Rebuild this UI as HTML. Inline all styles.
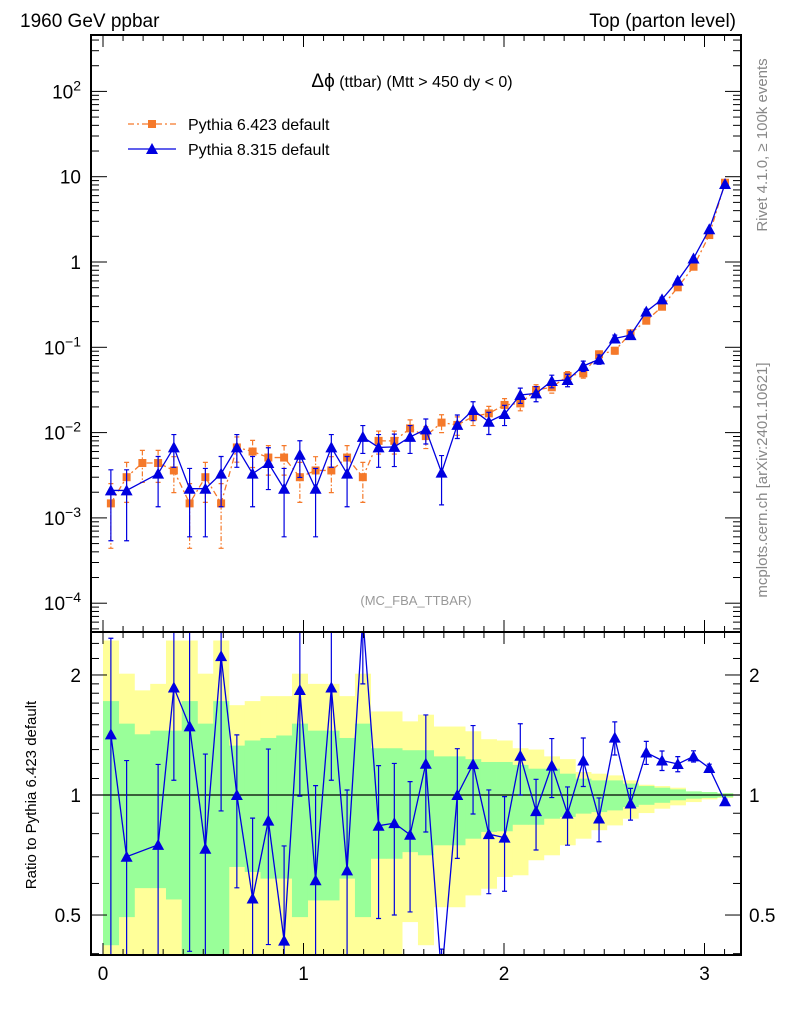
<!DOCTYPE html>
<html><head><meta charset="utf-8"><style>
html,body{margin:0;padding:0;background:#fff;width:786px;height:1024px;overflow:hidden;}
svg{display:block;font-family:"Liberation Sans",sans-serif;}
</style></head><body>
<svg id="c" width="786" height="1024" viewBox="0 0 786 1024" xmlns="http://www.w3.org/2000/svg">
<defs>
<clipPath id="cpTop"><rect x="91" y="35" width="650" height="597"/></clipPath>
<clipPath id="cpRat"><rect x="91" y="632" width="650" height="323"/></clipPath>
</defs>
<text x="20" y="27" font-size="19">1960 GeV ppbar</text>
<text x="736" y="27" font-size="19" text-anchor="end">Top (parton level)</text>
<text x="412" y="87" font-size="16" text-anchor="middle"><tspan font-size="19">Δϕ</tspan> (ttbar) (Mtt &gt; 450 dy &lt; 0)</text>
<text x="416" y="605" font-size="13" fill="#999" text-anchor="middle">(MC_FBA_TTBAR)</text>
<text transform="translate(767,145) rotate(-90)" font-size="15" fill="#888" text-anchor="middle">Rivet 4.1.0, ≥ 100k events</text>
<text transform="translate(767,480) rotate(-90)" font-size="15" fill="#888" text-anchor="middle">mcplots.cern.ch [arXiv:2401.10621]</text>
<text transform="translate(36,795) rotate(-90)" font-size="15" text-anchor="middle">Ratio to Pythia 6.423 default</text>
<g id="legend">
<g>
<line x1="128" y1="124" x2="176" y2="124" stroke="#f5792a" stroke-width="1.3" stroke-dasharray="6,3,2,3"/>
<rect x="148" y="120" width="8" height="8" fill="#f5792a"/>
<text x="188" y="130" font-size="16">Pythia 6.423 default</text></g>
<g>
<line x1="128" y1="149" x2="176" y2="149" stroke="#0000e0" stroke-width="1.3"/>
<polygon points="152,143 158,154 146,154" fill="#0000e0"/>
<text x="188" y="155" font-size="16">Pythia 8.315 default</text></g>
</g>
<g id="bands" clip-path="url(#cpRat)"></g>
<g id="topMarks" clip-path="url(#cpTop)"></g>
<g id="ratMarks" clip-path="url(#cpRat)"></g>
<g id="axes"></g>
</svg>
<script>
const nBins = 40;
const xMax = Math.PI;
const p6Vals = [1.48e-3,3.0e-3,4.4e-3,4.4e-3,3.6e-3,1.48e-3,3.0e-3,1.48e-3,6.7e-3,6.0e-3,5.1e-3,5.1e-3,3.0e-3,3.6e-3,3.6e-3,5.1e-3,3.0e-3,8.0e-3,8.0e-3,0.0112,0.0091,0.0131,0.0123,0.0154,0.0168,0.0211,0.022,0.0316,0.034,0.0461,0.0495,0.0828,0.0912,0.146,0.205,0.299,0.505,0.88,2.07,8.5];
const p6Errs = [1.04e-3,1.48e-3,1.79e-3,1.79e-3,1.62e-3,1.04e-3,1.48e-3,1.04e-3,2.2e-3,2.1e-3,1.93e-3,1.93e-3,1.48e-3,1.62e-3,1.62e-3,1.93e-3,1.48e-3,2.4e-3,2.4e-3,2.9e-3,2.6e-3,3.1e-3,3.0e-3,3.3e-3,3.5e-3,3.9e-3,4.0e-3,4.8e-3,5.0e-3,5.8e-3,6.0e-3,7.8e-3,8.2e-3,0.0103,0.0122,0.0148,0.0192,0.0253,0.039,0.079];
const p8Vals = [2.1e-3,2.1e-3,null,3.3e-3,6.7e-3,2.2e-3,2.2e-3,3.3e-3,6.7e-3,3.3e-3,4.4e-3,2.2e-3,5.5e-3,2.2e-3,6.7e-3,3.3e-3,8.9e-3,6.7e-3,6.8e-3,8.9e-3,0.0109,3.4e-3,0.0123,0.0184,0.0134,0.0165,0.0276,0.0288,0.0403,0.0414,0.0604,0.0723,0.127,0.139,0.262,0.365,0.604,1.10,2.42,8.2];
const p8Errs = [1.56e-3,1.56e-3,null,1.95e-3,2.78e-3,1.6e-3,1.6e-3,1.95e-3,2.78e-3,1.95e-3,2.25e-3,1.6e-3,2.52e-3,1.6e-3,2.78e-3,1.95e-3,3.2e-3,2.78e-3,2.8e-3,3.2e-3,3.55e-3,1.98e-3,3.77e-3,4.6e-3,3.9e-3,4.4e-3,5.6e-3,5.8e-3,6.8e-3,6.9e-3,8.4e-3,9.1e-3,0.0121,0.0127,0.0174,0.0205,0.0264,0.0357,0.053,0.097];
const greenHi = [1.72,1.51,1.42,1.45,1.45,1.72,1.51,1.72,1.33,1.37,1.39,1.41,1.51,1.45,1.45,1.39,1.51,1.31,1.31,1.295,1.295,1.25,1.25,1.23,1.21,1.21,1.19,1.164,1.164,1.131,1.099,1.088,1.088,1.068,1.053,1.043,1.033,1.021,1.017,1.01];
const greenLo = [0.42,0.494,0.584,0.584,0.547,0.39,0.39,0.39,0.66,0.641,0.617,0.617,0.494,0.544,0.544,0.617,0.494,0.692,0.692,0.719,0.706,0.748,0.748,0.777,0.808,0.811,0.842,0.842,0.872,0.881,0.898,0.906,0.915,0.933,0.945,0.956,0.97,0.979,0.983,0.987];
const yellowHi = [2.44,2.015,1.83,1.90,2.44,2.44,2.015,2.44,1.68,1.72,1.77,1.77,2.015,1.90,1.90,1.77,2.015,1.62,1.62,1.53,1.59,1.485,1.485,1.445,1.38,1.37,1.31,1.30,1.25,1.23,1.142,1.131,1.12,1.088,1.061,1.053,1.043,1.021,1.017,1.01];
const yellowLo = [0.39,0.39,0.39,0.39,0.39,0.39,0.39,0.39,0.39,0.39,0.39,0.39,0.39,0.39,0.39,0.39,0.39,0.39,0.39,0.48,0.42,0.523,0.523,0.56,0.582,0.623,0.629,0.686,0.706,0.748,0.777,0.816,0.839,0.872,0.901,0.924,0.942,0.96,0.975,0.983];
const xTickLabels = ["0","1","2","3"];
const topDecades = [-4,-3,-2,-1,0,1,2];
const ratioTickLabels = ["0.5","1","2"];

const NS = "http://www.w3.org/2000/svg";
const X0 = 103, XS = 200.5;
const L = 91, R = 741, T = 35, M = 632, B = 955;
function sx(v){ return X0 + XS*v; }
function sy(v){ return 262 - 85.3*Math.log10(v); }
function ry(r){ return 795 - 398.7*Math.log10(r); }
function mk(tag, attrs, parent){ const e=document.createElementNS(NS,tag); for(const k in attrs) e.setAttribute(k,attrs[k]); parent.appendChild(e); return e; }
const bw = xMax/nBins;
function cx(i){ return sx((i+0.5)*bw); }

const bandsG = document.getElementById('bands');
for(let i=0;i<nBins;i++){
  const x1=sx(i*bw), x2=sx((i+1)*bw);
  let e = mk('rect',{x:x1,y:ry(yellowHi[i]),width:x2-x1+0.3,height:ry(yellowLo[i])-ry(yellowHi[i]),fill:'#ffff99'},bandsG);
  
  
}
for(let i=0;i<nBins;i++){
  const x1=sx(i*bw), x2=sx((i+1)*bw);
  let e = mk('rect',{x:x1,y:ry(greenHi[i]),width:x2-x1+0.3,height:ry(greenLo[i])-ry(greenHi[i]),fill:'#99ff99'},bandsG);
  
  
}
let ul = mk('line',{x1:L,x2:R,y1:ry(1),y2:ry(1),stroke:'#000','stroke-width':1.2},bandsG);



const topG = document.getElementById('topMarks');
function drawSeries(g, vals, errs, yf, color, dash, marker, name, floor, ceil){
  let pts=[];
  for(let i=0;i<nBins;i++){ if(vals[i]==null) continue; pts.push(cx(i)+','+yf(Math.min(Math.max(vals[i],floor),ceil))); }
  let pl = mk('polyline',{points:pts.join(' '),fill:'none',stroke:color,'stroke-width':1.3},g);
  if(dash) pl.setAttribute('stroke-dasharray',dash);
  
  
  for(let i=0;i<nBins;i++){
    if(vals[i]==null) continue;
    const v = Math.min(Math.max(vals[i],floor),ceil);
    const x=cx(i), y=yf(v);
    const lo = Math.max(vals[i]-errs[i], floor);
    const hi = Math.min(vals[i]+errs[i], ceil);
    const ya=yf(hi), yb=yf(lo);
    let eb = mk('path',{d:`M${x},${ya}V${yb}M${x-2.5},${ya}H${x+2.5}M${x-2.5},${yb}H${x+2.5}`,stroke:color,'stroke-width':1.2,fill:'none'},g);
    if(dash) eb.setAttribute('stroke-dasharray','5,2,1.5,2');
    
    
    let m;
    if(marker==='sq') m = mk('rect',{x:x-4,y:y-4,width:8,height:8,fill:color},g);
    else m = mk('polygon',{points:`${x},${y-6} ${x+6},${y+5} ${x-6},${y+5}`,fill:color},g);
    
    
  }
}
drawSeries(topG,p6Vals,p6Errs,sy,'#f5792a','6,3,2,3','sq','pythia6',5e-5,1000);
drawSeries(topG,p8Vals,p8Errs,sy,'#0000e0',null,'tri','pythia8',5e-5,1000);

const ratG = document.getElementById('ratMarks');
const ratVals = p8Vals.map((v,i)=> v==null?null: v/p6Vals[i]);
const ratErrs = p8Errs.map((e,i)=> e==null?null: e/p6Vals[i]);
drawSeries(ratG,ratVals,ratErrs,ry,'#0000e0',null,'tri','ratio',0.35,2.8);

const axG = document.getElementById('axes');
function ln(x1,y1,x2,y2,w,name){ let e=mk('line',{x1,y1,x2,y2,stroke:'#000','stroke-width':w||1},axG);   return e; }
let f1 = mk('rect',{x:L,y:T,width:R-L,height:M-T,fill:'none',stroke:'#000','stroke-width':2},axG);


let f2 = mk('rect',{x:L,y:M,width:R-L,height:B-M,fill:'none',stroke:'#000','stroke-width':2},axG);


for(let k=0;k<=31;k++){
  const v=k/10, x=sx(v); if(x>R) break;
  const major = k%10===0, len = major?12:6;
  ln(x,T,x,T+len,1,'x-tick'); ln(x,M,x,M-len,1,'x-tick'); ln(x,M,x,M+len,1,'x-tick'); ln(x,B,x,B-len,1,'x-tick');
}
xTickLabels.forEach(s=>{
  let t=mk('text',{x:sx(+s),y:980,'font-size':19,'text-anchor':'middle'},axG); t.textContent=s;
  
  
});
for(let d=-5; d<=2; d++){
  for(let m=1;m<10;m++){
    const v=m*Math.pow(10,d), y=sy(v);
    if(y<T||y>M) continue;
    const len = m===1?16:8;
    ln(L,y,L+len,y,1,'y-tick'); ln(R,y,R-len,y,1,'y-tick');
  }
}
topDecades.forEach(d=>{
  const y=sy(Math.pow(10,d));
  let t=mk('text',{x:81,y:y+7,'font-size':19,'text-anchor':'end'},axG);
  
  
  if(d===0) t.textContent='1';
  else if(d===1) t.textContent='10';
  else { t.textContent='10'; let s=mk('tspan',{dy:-8,'font-size':14},t); s.textContent=String(d).replace('-','−'); }
});
[0.4,0.5,0.6,0.7,0.8,0.9,1,1.1,1.2,1.3,1.4,1.5,1.6,1.7,1.8,1.9,2,2.2,2.4].forEach(r=>{
  const y=ry(r); const major=(r===0.5||r===1||r===2); const len=major?16:8;
  ln(L,y,L+len,y,1,'ratio-y-tick'); ln(R,y,R-len,y,1,'ratio-y-tick');
});
ratioTickLabels.forEach(s=>{
  const y=ry(+s);
  let t=mk('text',{x:81,y:y+7,'font-size':19,'text-anchor':'end'},axG); t.textContent=s;
  
  
  let t2=mk('text',{x:749,y:y+7,'font-size':19},axG); t2.textContent=s;
  
  
});
</script>
</body></html>
